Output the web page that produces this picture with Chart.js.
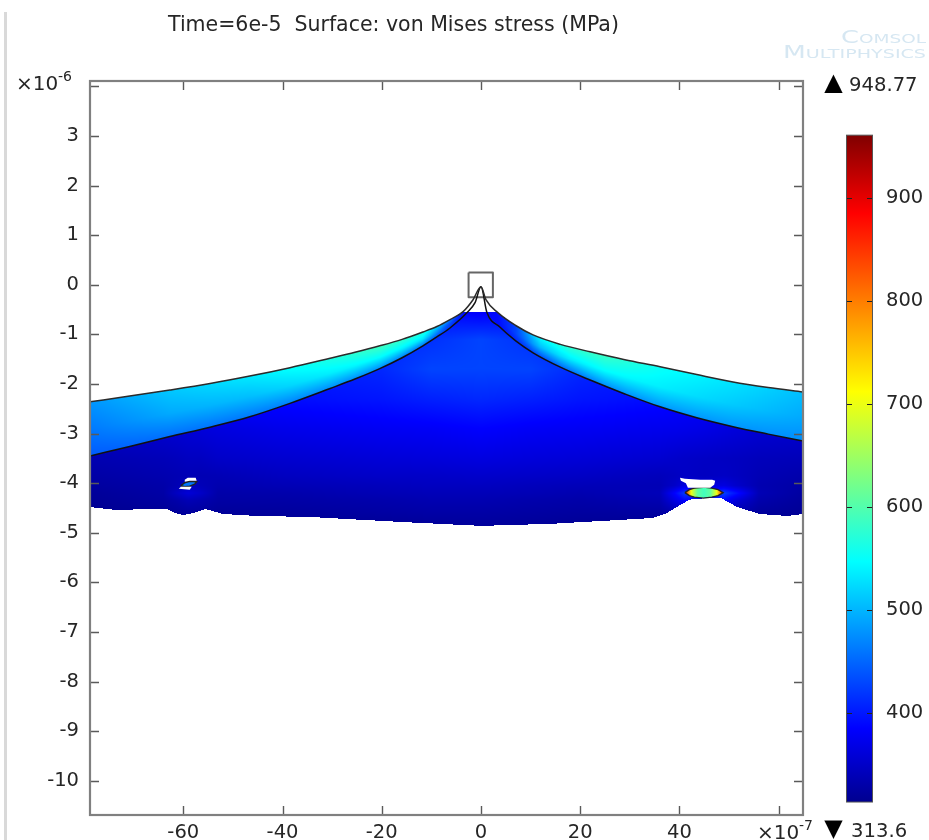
<!DOCTYPE html>
<html>
<head>
<meta charset="utf-8">
<script src="https://cdn.jsdelivr.net/npm/chart.js@4"></script>
<style>
  html, body { margin: 0; padding: 0; background: #fff; }
  canvas { display: block; }
</style>
</head>
<body>
<canvas id="stressChart" width="929" height="840"></canvas>
<script>
// x is in units of 1e-7, y in units of 1e-6, as on the axes
const xLimits = [-78.8, 64.9];
const yLimits = [-10.69, 4.11];
const barLimits = [301, 1013.6];
const barRange = [313.6, 961];
const barTicks = [400, 500, 600, 700, 800, 900];

// rainbow colour table, stress value -> r, g, b
const jetV = [313.6, 385, 547, 712, 885, 961];
const jetR = [0, 0, 0, 255, 255, 128];
const jetG = [0, 0, 255, 255, 0, 0];
const jetB = [143, 255, 255, 0, 0, 0];

// boundaries of the layer and the substrate
const topX = [-78.8, -70.8, -62.7, -54.6, -46.6, -38.5, -30.4, -25.4, -20.4, -15.9, -11.7, -8.9, -6.25, -3.6, -1.6, 0, 1, 3.4, 7, 10.5, 16, 22, 29, 36.1, 43.5, 50.8, 57.9, 64.9];
const topY = [-2.36, -2.24, -2.12, -1.99, -1.84, -1.67, -1.48, -1.36, -1.23, -1.1, -.95, -.84, -.7, -.54, -.3, -.04, -.3, -.56, -.82, -1.01, -1.2, -1.35, -1.51, -1.65, -1.81, -1.96, -2.07, -2.16];
const lowX = [-78.8, -70.8, -62.7, -54.6, -46.6, -38.5, -30.4, -25.4, -20.4, -15.9, -11.7, -8.9, -6.25, -2.8, -1.2, 0, 1.2, 3.8, 7, 10.5, 16, 22, 29, 36.1, 43.5, 50.8, 57.9, 64.9];
const lowY = [-3.45, -3.26, -3.06, -2.87, -2.66, -2.39, -2.09, -1.9, -1.69, -1.47, -1.23, -1.05, -.87, -.56, -.36, -.04, -.56, -.85, -1.13, -1.37, -1.66, -1.92, -2.2, -2.46, -2.68, -2.86, -3.01, -3.15];
const botX = [-78.8, -73.4, -66.7, -63.3, -61.7, -60, -58, -55.6, -52, -45.2, -34.5, -16.3, 0, 13.9, 28, 34.7, 37.5, 40.1, 42.1, 44.2, 48.2, 51.6, 56.2, 61.7, 64.9];
const botY = [-4.48, -4.54, -4.52, -4.52, -4.6, -4.64, -4.6, -4.52, -4.62, -4.66, -4.68, -4.78, -4.86, -4.82, -4.74, -4.7, -4.6, -4.44, -4.33, -4.31, -4.29, -4.48, -4.62, -4.66, -4.62];
const cutY = -0.55;

// stress across the layer: outer edge, middle, inner edge
const bandX = [-78.8, -62.7, -46.6, -30.4, -20.4, -11.7, -7, -3.6, 0, 3.4, 7, 12, 18, 25, 36, 50, 64.9];
const bandOuter = [480, 512, 534, 566, 590, 570, 480, 398, 385, 392, 428, 547, 578, 585, 553, 531, 506];
const bandMiddle = [462, 493, 506, 537, 547, 531, 442, 395, 385, 392, 428, 506, 535, 547, 537, 515, 493];
const bandInner = [442, 455, 461, 474, 474, 455, 423, 395, 385, 392, 410, 435, 455, 474, 480, 480, 474];

// stress in the substrate
const domeX = [-78.8, -64, -61.5, -59, -56.5, -53, -40, -20, -10, 0, 10, 20, 36, 39, 41, 45, 49, 51.5, 56, 65];
const domeY = [-0.55, -1.1, -1.7, -2.3, -2.9, -3.5, -3.85, -4.05, -4.2, -4.35, -4.6, -4.85];
const domeValues = [
  [392, 392, 392, 392, 392, 392, 392, 392, 392, 380, 392, 392, 392, 392, 392, 392, 392, 392, 392, 392],
  [410, 410, 410, 410, 410, 410, 410, 410, 415, 428, 415, 410, 410, 410, 410, 410, 410, 410, 410, 410],
  [400, 400, 400, 400, 400, 400, 400, 410, 428, 428, 428, 410, 400, 400, 400, 400, 400, 400, 400, 400],
  [388, 388, 388, 388, 388, 390, 392, 398, 405, 410, 405, 398, 392, 390, 388, 386, 384, 382, 380, 378],
  [352, 356, 358, 360, 362, 365, 372, 378, 380, 385, 380, 378, 374, 373, 372, 369, 365, 362, 358, 355],
  [335, 340, 342, 345, 345, 350, 355, 360, 362, 365, 362, 360, 355, 352, 350, 348, 346, 345, 342, 340],
  [328, 334, 336, 338, 337, 338, 345, 350, 350, 352, 350, 348, 342, 345, 348, 345, 348, 345, 338, 332],
  [324, 330, 336, 345, 340, 334, 338, 342, 345, 345, 342, 340, 338, 350, 365, 360, 365, 352, 335, 328],
  [320, 328, 345, 360, 350, 330, 332, 338, 340, 340, 338, 335, 340, 385, 420, 400, 425, 395, 338, 325],
  [318, 325, 330, 338, 334, 327, 328, 332, 335, 335, 332, 330, 335, 365, 385, 380, 385, 360, 332, 322],
  [315, 318, 320, 322, 322, 320, 322, 326, 328, 328, 326, 324, 325, 330, 335, 335, 335, 330, 322, 318],
  [314, 315, 315, 316, 316, 316, 316, 318, 320, 322, 320, 318, 316, 316, 316, 316, 316, 316, 315, 314]
];

// inclusions, voids and the indenter
const lensRightX = [41.1, 42, 43, 44.8, 46.5, 47.8, 48.8, 47.8, 46.5, 44.8, 43, 42, 41.1];
const lensRightY = [-4.19, -4.13, -4.1, -4.08, -4.1, -4.13, -4.19, -4.25, -4.28, -4.3, -4.28, -4.25, -4.19];
const lensRightStress = [880, 700, 610, 590, 610, 700, 880];
const lensLeftX = [-60.5, -59.7, -58.7, -57.3, -57.7, -58.7, -59.7, -60.5];
const lensLeftY = [-4.05, -3.99, -3.96, -3.97, -4.02, -4.06, -4.07, -4.05];
const lensLeftStress = 460;
const voidRightX = [40.1, 41.1, 44.2, 46.6, 47.2, 47, 46.2, 43.2, 41.7, 41.3, 40.3, 40.1];
const voidRightY = [-3.89, -3.91, -3.93, -3.93, -3.95, -4.03, -4.09, -4.09, -4.09, -4, -3.95, -3.89];
const voidUpperX = [-59.7, -59.1, -57.5, -57.3, -58.7, -59.7, -59.7];
const voidUpperY = [-3.93, -3.89, -3.89, -3.95, -3.95, -3.97, -3.93];
const voidLowerX = [-60.9, -60.5, -58.3, -58.7, -60.9];
const voidLowerY = [-4.11, -4.07, -4.07, -4.13, -4.11];
const squareX = [-2.5, 2.4, 2.4, -2.5, -2.5];
const squareY = [0.25, 0.25, -0.25, -0.25, 0.25];

const FONT = '"DejaVu Sans"';
const TEXT = '#262626';
const AXIS = '#808080';

const points = (xs, ys) => xs.map((x, i) => ({ x, y: ys[i] }));

function lookup(xs, ys, x) {
  if (x <= xs[0]) return ys[0];
  for (let i = 1; i < xs.length; i++) {
    if (x <= xs[i]) {
      return ys[i - 1] + (ys[i] - ys[i - 1]) * (x - xs[i - 1]) / (xs[i] - xs[i - 1]);
    }
  }
  return ys[ys.length - 1];
}

function jetColor(v) {
  return [lookup(jetV, jetR, v), lookup(jetV, jetG, v), lookup(jetV, jetB, v)];
}
const jetCss = v => `rgb(${jetColor(v).map(Math.round).join(',')})`;

function domeStress(x, y) {
  // domeY runs downwards, so walk it by hand
  let r = 0;
  while (r < domeY.length - 2 && y < domeY[r + 1]) r++;
  const f = Math.min(1, Math.max(0, (domeY[r] - y) / (domeY[r] - domeY[r + 1])));
  const a = lookup(domeX, domeValues[r], x);
  const b = lookup(domeX, domeValues[r + 1], x);
  return a + (b - a) * f;
}

// the surface plot, worked out through the chart's own scales
const surfacePlugin = {
  id: 'surface',
  beforeDatasetsDraw(chart) {
    const { ctx, chartArea: area, scales } = chart;
    const w = Math.round(area.right - area.left);
    const h = Math.round(area.bottom - area.top);
    const off = document.createElement('canvas');
    off.width = w;
    off.height = h;
    const oc = off.getContext('2d');
    const img = oc.createImageData(w, h);
    for (let px = 0; px < w; px++) {
      const x = scales.x.getValueForPixel(area.left + px + 0.5);
      const yTop = lookup(topX, topY, x);
      const yLow = lookup(lowX, lowY, x);
      const yBot = lookup(botX, botY, x);
      for (let py = 0; py < h; py++) {
        const y = scales.y.getValueForPixel(area.top + py + 0.5);
        if (y > cutY || y > yTop || y < yBot) continue;
        let v;
        if (y > yLow) {
          const t = (yTop - y) / (yTop - yLow);
          const outer = lookup(bandX, bandOuter, x);
          const mid = lookup(bandX, bandMiddle, x);
          const inner = lookup(bandX, bandInner, x);
          v = t < 0.5 ? outer + (mid - outer) * t * 2 : mid + (inner - mid) * (t - 0.5) * 2;
        } else {
          v = domeStress(x, y);
        }
        const c = jetColor(v);
        const k = (py * w + px) * 4;
        img.data[k] = c[0];
        img.data[k + 1] = c[1];
        img.data[k + 2] = c[2];
        img.data[k + 3] = 255;
      }
    }
    oc.putImageData(img, 0, 0);
    ctx.drawImage(off, area.left, area.top);
  }
};

function drawText(ctx, str, x, y, size, align) {
  ctx.font = `${size}px ${FONT}`;
  ctx.textAlign = align || 'left';
  ctx.textBaseline = 'middle';
  ctx.fillText(str, x, y);
}

// frame, inward ticks, colour bar and the loose labels
const decorPlugin = {
  id: 'decor',
  afterDraw(chart) {
    const { ctx, chartArea: area, scales } = chart;
    ctx.save();

    // strip at the left of the screenshot
    ctx.fillStyle = '#d9d9d9';
    ctx.fillRect(4, 12, 3, 828);

    // ticks on all four sides
    ctx.strokeStyle = '#5a5a5a';
    ctx.lineWidth = 1.4;
    ctx.beginPath();
    scales.x.ticks.forEach(t => {
      const p = Math.round(scales.x.getPixelForValue(t.value)) + 0.5;
      ctx.moveTo(p, area.top);
      ctx.lineTo(p, area.top + 9);
      ctx.moveTo(p, area.bottom);
      ctx.lineTo(p, area.bottom - 9);
    });
    scales.y.ticks.forEach(t => {
      const p = Math.round(scales.y.getPixelForValue(t.value)) + 0.5;
      ctx.moveTo(area.left, p);
      ctx.lineTo(area.left + 9, p);
      ctx.moveTo(area.right, p);
      ctx.lineTo(area.right - 9, p);
    });
    ctx.stroke();

    ctx.strokeStyle = AXIS;
    ctx.lineWidth = 2.2;
    ctx.strokeRect(area.left, area.top, area.right - area.left, area.bottom - area.top);

    // colour bar
    const bar = scales.bar;
    const yTop = bar.getPixelForValue(barRange[1]);
    const yBot = bar.getPixelForValue(barRange[0]);
    const grad = ctx.createLinearGradient(0, yBot, 0, yTop);
    jetV.forEach(v => {
      grad.addColorStop((bar.getPixelForValue(v) - yBot) / (yTop - yBot), jetCss(v));
    });
    ctx.fillStyle = grad;
    ctx.fillRect(847, yTop, 25, yBot - yTop);
    ctx.strokeStyle = '#555';
    ctx.lineWidth = 1;
    ctx.strokeRect(846.5, yTop, 26, yBot - yTop);
    ctx.strokeStyle = '#222';
    ctx.beginPath();
    barTicks.forEach(v => {
      const p = Math.round(bar.getPixelForValue(v)) + 0.5;
      ctx.moveTo(847, p);
      ctx.lineTo(852, p);
      ctx.moveTo(867, p);
      ctx.lineTo(872, p);
    });
    ctx.stroke();

    // texts
    ctx.fillStyle = TEXT;
    drawText(ctx, 'Time=6e-5  Surface: von Mises stress (MPa)', 168, 26, 20.5);
    drawText(ctx, '\u00d710', 16, 85, 20);
    drawText(ctx, '-6', 58, 77, 14);
    drawText(ctx, '\u00d710', 757, 834, 20);
    drawText(ctx, '-7', 799, 826, 14);
    drawText(ctx, '948.77', 849, 86, 19.6);
    drawText(ctx, '313.6', 851, 832, 19.6);
    ctx.fillStyle = '#000';
    drawText(ctx, '\u25b2', 833.5, 84, 24, 'center');
    drawText(ctx, '\u25bc', 833.5, 830, 24, 'center');

    // watermark
    ctx.fillStyle = '#d6e7f2';
    ctx.font = `small-caps 18px ${FONT}`;
    ctx.textAlign = 'right';
    ctx.textBaseline = 'middle';
    const mark = (str, right, y, width) => {
      const sx = width / ctx.measureText(str).width;
      ctx.save();
      ctx.translate(right, y);
      ctx.scale(sx, 1);
      ctx.fillText(str, 0, 0);
      ctx.restore();
    };
    mark('Comsol', 926, 38, 85);
    mark('Multiphysics', 926, 53, 143);

    ctx.restore();
  }
};

function outline(xs, ys, color, width, smooth) {
  return {
    data: points(xs, ys),
    showLine: true,
    borderColor: color,
    borderWidth: width,
    borderJoinStyle: 'round',
    pointRadius: 0,
    cubicInterpolationMode: smooth ? 'monotone' : 'default',
    fill: false
  };
}

function filled(xs, ys, color, edge) {
  return {
    data: points(xs, ys),
    showLine: true,
    backgroundColor: color,
    borderColor: edge || color,
    borderWidth: edge ? 1.4 : 0,
    pointRadius: 0,
    fill: 'shape'
  };
}

const lensGradient = (context) => {
  const { chart } = context;
  if (!chart.chartArea) return jetCss(lensRightStress[3]);
  const x0 = chart.scales.x.getPixelForValue(lensRightX[0]);
  const x1 = chart.scales.x.getPixelForValue(lensRightX[6]);
  const g = chart.ctx.createLinearGradient(x0, 0, x1, 0);
  lensRightStress.forEach((v, i) => g.addColorStop(i / (lensRightStress.length - 1), jetCss(v)));
  return g;
};

const tickFont = { family: 'DejaVu Sans', size: 19.5 };
const noGrid = { display: false, drawTicks: false };

// tick padding also counts as overhang on vertical axes, which would shrink the plot
const noOverhang = (s) => { s.paddingTop = 0; s.paddingBottom = 0; };

new Chart(document.getElementById('stressChart'), {
  type: 'scatter',
  data: {
    datasets: [
      filled(voidRightX, voidRightY, '#fff'),
      filled(voidUpperX, voidUpperY, '#fff'),
      filled(voidLowerX, voidLowerY, '#fff'),
      filled(lensRightX, lensRightY, lensGradient, '#222'),
      filled(lensLeftX, lensLeftY, jetCss(lensLeftStress), '#222'),
      outline(topX, topY, '#2b2b2b', 1.5, true),
      outline(lowX, lowY, '#111', 1.5, true),
      outline(squareX, squareY, '#666', 2, false)
    ]
  },
  plugins: [surfacePlugin, decorPlugin],
  options: {
    responsive: false,
    animation: false,
    plugins: { legend: { display: false }, tooltip: { enabled: false }, title: { display: false } },
    scales: {
      x: {
        type: 'linear',
        min: xLimits[0],
        max: xLimits[1],
        afterFit: s => { s.height = 25; },
        grid: noGrid,
        border: { display: false },
        ticks: {
          stepSize: 20,
          includeBounds: false,
          maxRotation: 0,
          padding: 6,
          color: TEXT,
          font: tickFont,
          callback: v => (v === 60 ? '' : String(v))
        }
      },
      // empty axis that only holds the space above the plot
      headroom: {
        type: 'linear',
        position: 'top',
        min: xLimits[0],
        max: xLimits[1],
        afterFit: s => { s.height = 81; },
        grid: noGrid,
        border: { display: false },
        ticks: { display: false }
      },
      y: {
        type: 'linear',
        min: yLimits[0],
        max: yLimits[1],
        afterFit: s => { s.width = 90; noOverhang(s); },
        grid: noGrid,
        border: { display: false },
        ticks: {
          stepSize: 1,
          includeBounds: false,
          padding: 11,
          color: TEXT,
          font: tickFont,
          callback: v => (v === 4 ? '' : String(v))
        }
      },
      bar: {
        type: 'linear',
        position: 'right',
        min: barLimits[0],
        max: barLimits[1],
        afterFit: s => { s.width = 126; noOverhang(s); },
        afterBuildTicks: s => { s.ticks = barTicks.map(value => ({ value })); },
        grid: noGrid,
        border: { display: false },
        ticks: {
          padding: 83,
          color: TEXT,
          font: tickFont
        }
      }
    }
  }
});
</script>
</body>
</html>
